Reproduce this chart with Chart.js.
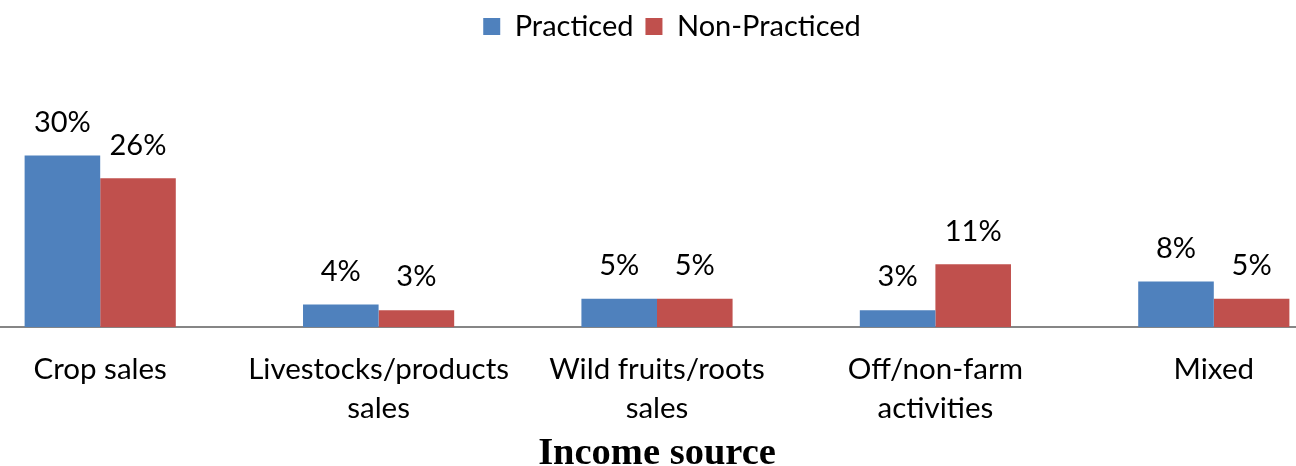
<!DOCTYPE html>
<html>
<head>
<meta charset="utf-8">
<script src="https://cdn.jsdelivr.net/npm/chart.js@4"></script>
<style>
  html, body { margin: 0; padding: 0; background: #fff; overflow: hidden; }
  #wrap { position: absolute; left: -39px; top: 0; width: 1392px; height: 466px; }
</style>
</head>
<body>
<div id="wrap"><canvas id="myChart"></canvas></div>
<script>
const categories = [
    'Crop sales',
    ['Livestocks/products', 'sales'],
    ['Wild fruits/roots', 'sales'],
    ['Off/non-farm', 'activities'],
    'Mixed'
];
const practiced = [30, 4, 5, 3, 8];
const nonPracticed = [26, 3, 5, 11, 5];

// push the plot down below the legend, nudge the legend right a bit
const legendSpacer = {
    id: 'legendSpacer',
    beforeInit(chart) {
        const legend = chart.legend;
        const origFit = legend.fit;
        legend.fit = function() {
            origFit.bind(legend)();
            this.height += 70;
        };
        const origDraw = legend.draw;
        legend.draw = function() {
            chart.ctx.save();
            chart.ctx.translate(15, 0);
            origDraw.bind(legend)();
            chart.ctx.restore();
        };
    }
};

// percent labels above each bar
const barLabels = {
    id: 'barLabels',
    afterDatasetsDraw(chart) {
        const ctx = chart.ctx;
        ctx.save();
        ctx.font = '29px Lato';
        ctx.fillStyle = '#000';
        ctx.textAlign = 'center';
        ctx.textBaseline = 'middle';
        chart.data.datasets.forEach((ds, i) => {
            chart.getDatasetMeta(i).data.forEach((bar, j) => {
                ctx.fillText(ds.data[j] + '%', bar.x, bar.y - 33);
            });
        });
        ctx.restore();
    }
};

const ctx = document.getElementById('myChart').getContext('2d');
new Chart(ctx, {
    type: 'bar',
    data: {
        labels: categories,
        datasets: [
            { label: 'Practiced', data: practiced, backgroundColor: '#4F81BD' },
            { label: 'Non-Practiced', data: nonPracticed, backgroundColor: '#C0504D' }
        ]
    },
    options: {
        responsive: true,
        maintainAspectRatio: false,
        animation: false,
        layout: { padding: 0 },
        plugins: {
            legend: {
                display: true,
                position: 'top',
                labels: {
                    boxWidth: 17,
                    boxHeight: 17,
                    padding: 12,
                    color: '#000',
                    font: { family: 'Lato', size: 29 }
                }
            },
            title: {
                display: true,
                position: 'bottom',
                text: 'Income source',
                color: '#000',
                padding: { top: -13, bottom: -3 },
                font: { family: 'Liberation Serif', size: 38.5, weight: 'bold', lineHeight: 0.8 }
            },
            tooltip: { enabled: false }
        },
        datasets: {
            bar: { categoryPercentage: 0.543, barPercentage: 1.0 }
        },
        scales: {
            x: {
                grid: { display: false, drawTicks: false },
                border: { display: true, color: '#868686', width: 2 },
                ticks: {
                    color: '#000',
                    padding: 23,
                    maxRotation: 0,
                    autoSkip: false,
                    font: { family: 'Lato', size: 29.5, lineHeight: 1.32 }
                }
            },
            y: {
                display: false,
                min: 0,
                max: 36
            }
        }
    },
    plugins: [legendSpacer, barLabels]
});
</script>
</body>
</html>
